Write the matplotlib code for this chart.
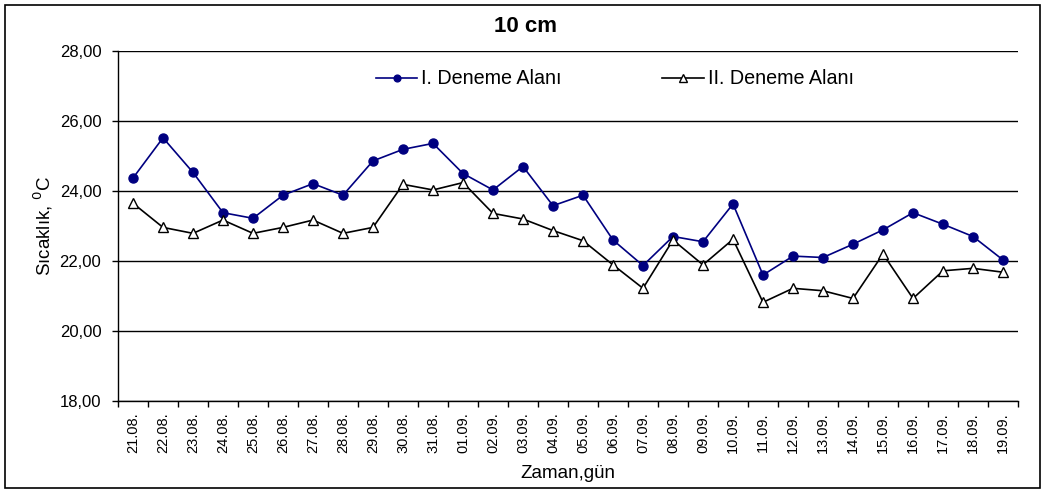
import matplotlib.pyplot as plt
from matplotlib.patches import Rectangle
from matplotlib.ticker import FixedLocator

plt.rcParams['font.family'] = ['Liberation Sans', 'DejaVu Sans']

dates = ["21.08.", "22.08.", "23.08.", "24.08.", "25.08.", "26.08.", "27.08.",
         "28.08.", "29.08.", "30.08.", "31.08.", "01.09.", "02.09.", "03.09.",
         "04.09.", "05.09.", "06.09.", "07.09.", "08.09.", "09.09.", "10.09.",
         "11.09.", "12.09.", "13.09.", "14.09.", "15.09.", "16.09.", "17.09.",
         "18.09.", "19.09."]

alan1 = [24.37, 25.52, 24.53, 23.38, 23.22, 23.88, 24.21, 23.88, 24.86, 25.19,
         25.36, 24.50, 24.03, 24.70, 23.58, 23.88, 22.60, 21.87, 22.70, 22.55,
         23.63, 21.60, 22.14, 22.10, 22.48, 22.89, 23.38, 23.05, 22.70, 22.03]

alan2 = [23.65, 22.96, 22.79, 23.17, 22.79, 22.96, 23.17, 22.79, 22.96, 24.19,
         24.03, 24.24, 23.36, 23.20, 22.87, 22.58, 21.89, 21.22, 22.60, 21.89,
         22.62, 20.82, 21.22, 21.15, 20.93, 22.20, 20.93, 21.72, 21.79, 21.68]

fig = plt.figure(figsize=(10.46, 4.93), dpi=100)
ax = fig.add_axes([118 / 1046, 92 / 493, 900 / 1046, 350 / 493])

x = range(len(dates))
ax.plot(x, alan1, color="#000080", lw=1.2, marker="o", ms=6.5,
        label="I. Deneme Alanı")
ax.plot(x, alan2, color="black", lw=1.2, marker="^", ms=7,
        markerfacecolor="white", markeredgecolor="black", markeredgewidth=1,
        label="II. Deneme Alanı")

ax.set_xlim(-0.5, len(dates) - 0.5)
ax.set_ylim(18, 28)
ax.set_yticks([18, 20, 22, 24, 26, 28])
ax.set_yticklabels(["18,00", "20,00", "22,00", "24,00", "26,00", "28,00"],
                   fontsize=12)
ax.yaxis.grid(True, color="black", lw=1)
ax.set_axisbelow(True)

ax.set_xticks(list(x))
ax.set_xticklabels(dates, rotation=90, fontsize=10.5)
ax.tick_params(axis="x", which="major", length=0, pad=8)
ax.xaxis.set_minor_locator(FixedLocator([i - 0.5 for i in range(len(dates) + 1)]))
ax.tick_params(axis="x", which="minor", length=4, direction="out", width=1)
ax.tick_params(axis="y", length=4, width=1, pad=8)

for side in ["top", "right"]:
    ax.spines[side].set_visible(False)
for side in ["left", "bottom"]:
    ax.spines[side].set_linewidth(1)

ax.set_xlabel("Zaman,gün", fontsize=13.5, labelpad=9)
ax.set_ylabel("Sıcaklık, $^{0}$C", fontsize=13.5, labelpad=3)
fig.text(525 / 1046, 1 - 27 / 493, "10 cm", ha="center", va="center",
         fontsize=16, fontweight="bold")

leg = ax.legend(loc="center left", bbox_to_anchor=((376 - 118) / 900, 0.92),
                ncol=2, frameon=False, fontsize=14.2, columnspacing=5.1,
                handlelength=2.1, handletextpad=0.2, borderpad=0,
                borderaxespad=0, markerscale=0.75)

fig.patches.append(Rectangle((5 / 1046, 5 / 493), 1035 / 1046, 483 / 493,
                             transform=fig.transFigure, fill=False,
                             edgecolor="black", lw=1.2))

fig.savefig("out.png", dpi=100)
